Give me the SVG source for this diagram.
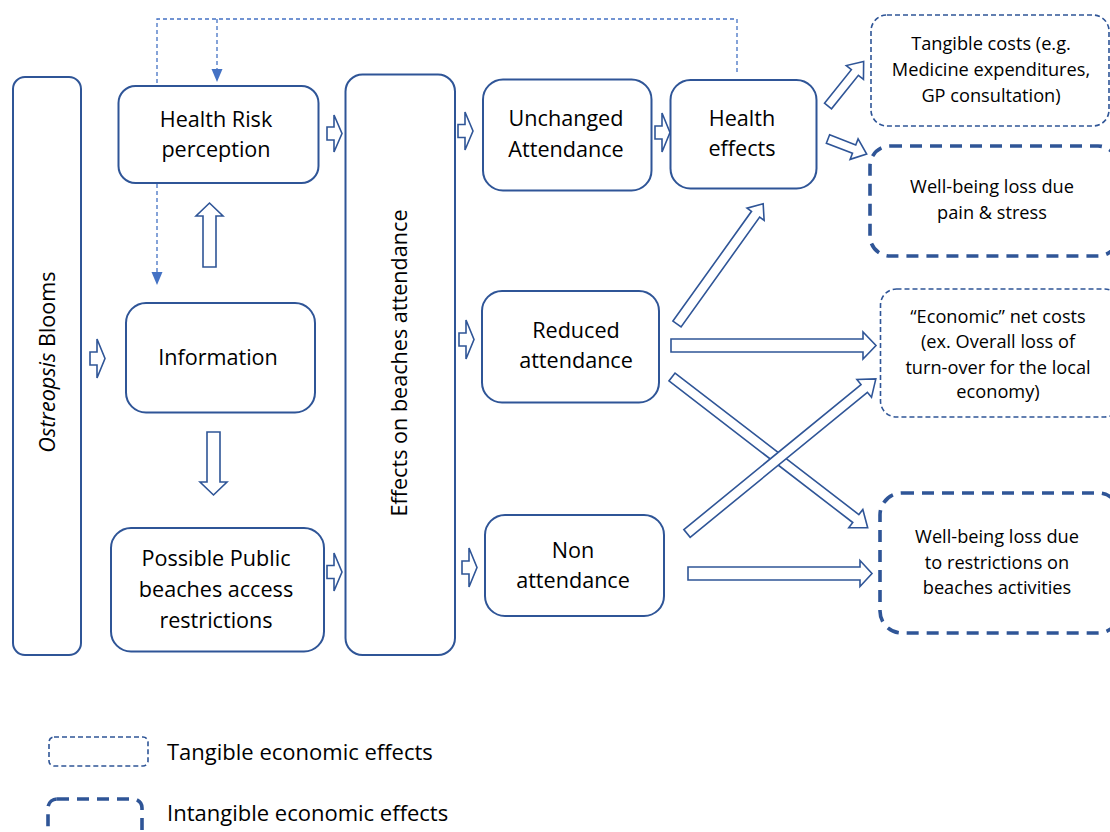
<svg xmlns="http://www.w3.org/2000/svg" width="1110" height="832" viewBox="0 0 1110 832">
<defs>
<style>
.node{fill:#fff;stroke:#2F5597;stroke-width:2}
.tan{fill:#fff;stroke:#2F5597;stroke-width:1.6;stroke-dasharray:5 3}
.intan{fill:#fff;stroke:#2F5597;stroke-width:3.6;stroke-dasharray:12 8}
.t{font-family:"Open Sans","DejaVu Sans",sans-serif;font-size:21.6px;fill:#000;text-anchor:middle}
.s{font-family:"Open Sans","DejaVu Sans",sans-serif;font-size:18.2px;fill:#000;text-anchor:middle}
.lg{font-family:"Open Sans","DejaVu Sans",sans-serif;font-size:22px;fill:#000}
.ba{fill:#fff;stroke:#2F5597;stroke-width:1.6;stroke-linejoin:miter}
.fb{fill:none;stroke:#4472C4;stroke-width:1.3;stroke-dasharray:4 3}
.fh{fill:#4472C4}
</style>
</defs>
<rect width="1110" height="832" fill="#fff"/>

<g id="connectors">
<!-- feedback dashed -->
<polyline class="fb" points="737,72 737,19 157,19 157,274"/>
<line class="fb" x1="217" y1="19" x2="217" y2="70"/>
<polygon class="fh" points="211.5,69 222.5,69 217,82"/>
<polygon class="fh" points="151.5,272 162.5,272 157,285"/>
<!-- small right block arrows -->
<polygon class="ba" points="90,352 97,352 97,339 105,358.5 97,378 97,365 90,365"/>
<polygon class="ba" points="327,127 334,127 334,115 342,133.5 334,152 334,140 327,140"/>
<polygon class="ba" points="327,565.5 334,565.5 334,553 342,572 334,591 334,578.5 327,578.5"/>
<polygon class="ba" points="458,124.5 465,124.5 465,112 473,131 465,150 465,137.5 458,137.5"/>
<polygon class="ba" points="655,126 662,126 662,113 670,132.5 662,152 662,139 655,139"/>
<polygon class="ba" points="459,333 466,333 466,320 474,339.5 466,359 466,346 459,346"/>
<polygon class="ba" points="462,561 469,561 469,548 477,567.5 469,587 469,574 462,574"/>
<!-- vertical block arrows -->
<polygon class="ba" points="203,267 203,216 196,216 209.5,203 223,216 216,216 216,267"/>
<polygon class="ba" points="207,432 220,432 220,482 227,482 213.5,495 200,482 207,482"/>
<!-- long block arrows -->
<polygon class="ba" points="671,339 863,339 863,332 876,345.5 863,359 863,352 671,352"/>
<polygon class="ba" points="688,567 860,567 860,560.5 872,573.5 860,586.5 860,580 688,580"/>
<polygon class="ba" transform="translate(677,324) rotate(-54.4)" points="0,-5 135,-5 135,-10.5 148,0 135,10.5 135,5 0,5"/>
<polygon class="ba" transform="translate(672,377) rotate(37.6)" points="0,-5 232,-5 232,-11.5 247,0 232,11.5 232,5 0,5"/>
<polygon class="ba" transform="translate(687,533.5) rotate(-39.3)" points="0,-5 229,-5 229,-11.5 244,0 229,11.5 229,5 0,5"/>
<polygon class="ba" transform="translate(828,106) rotate(-51.3)" points="0,-4.5 43,-4.5 43,-11 57,0 43,11 43,4.5 0,4.5"/>
<polygon class="ba" transform="translate(828,139) rotate(21.2)" points="0,-4.5 28,-4.5 28,-11 41.5,0 28,11 28,4.5 0,4.5"/>
</g>

<g id="ostreopsis">
<rect class="node" x="13" y="77" width="68" height="578" rx="12"/>
<text class="t" transform="translate(55,362) rotate(-90)"><tspan font-style="italic">Ostreopsis</tspan> Blooms</text>
</g>
<g id="health-risk">
<rect class="node" x="118.5" y="86" width="200" height="97" rx="17"/>
<text class="t" x="216" y="126.5">Health Risk</text>
<text class="t" x="216" y="156.5">perception</text>
</g>
<g id="information">
<rect class="node" x="126" y="303" width="189" height="109.5" rx="20"/>
<text class="t" x="218" y="365">Information</text>
</g>
<g id="restrictions">
<rect class="node" x="111" y="528" width="213" height="123.5" rx="20"/>
<text class="t" x="216" y="566">Possible Public</text>
<text class="t" x="216" y="597">beaches access</text>
<text class="t" x="216" y="627.5">restrictions</text>
</g>
<g id="effects-attendance">
<rect class="node" x="345.5" y="74.5" width="109.5" height="580.5" rx="17"/>
<text class="t" transform="translate(407,363) rotate(-90)">Effects on beaches attendance</text>
</g>
<g id="unchanged">
<rect class="node" x="483" y="79.5" width="168.5" height="111" rx="20"/>
<text class="t" x="566" y="125.5">Unchanged</text>
<text class="t" x="566" y="156.5">Attendance</text>
</g>
<g id="health-effects">
<rect class="node" x="670.5" y="80" width="146" height="108.5" rx="20"/>
<text class="t" x="742" y="126">Health</text>
<text class="t" x="742" y="155.5">effects</text>
</g>
<g id="reduced">
<rect class="node" x="482" y="291" width="177" height="111.5" rx="20"/>
<text class="t" x="576" y="337.5">Reduced</text>
<text class="t" x="576" y="368">attendance</text>
</g>
<g id="non">
<rect class="node" x="485" y="515" width="179" height="101" rx="20"/>
<text class="t" x="573" y="558">Non</text>
<text class="t" x="573" y="588">attendance</text>
</g>
<g id="tangible-costs">
<rect class="tan" x="871" y="15" width="238" height="111" rx="16"/>
<text class="s" x="991" y="50">Tangible costs (e.g.</text>
<text class="s" x="991" y="76">Medicine expenditures,</text>
<text class="s" x="991" y="101.5">GP consultation)</text>
</g>
<g id="wellbeing-pain">
<rect class="intan" x="870" y="146" width="248" height="110" rx="20"/>
<text class="s" x="992" y="193">Well-being loss due</text>
<text class="s" x="992" y="218.5">pain &amp; stress</text>
</g>
<g id="economic-costs">
<rect class="tan" x="880.5" y="289" width="240" height="128" rx="16"/>
<text class="s" x="998" y="322.5">“Economic” net costs</text>
<text class="s" x="998" y="348">(ex. Overall loss of</text>
<text class="s" x="998" y="373.5">turn-over for the local</text>
<text class="s" x="998" y="398">economy)</text>
</g>
<g id="wellbeing-restrictions">
<rect class="intan" x="880" y="493" width="240" height="140" rx="22"/>
<text class="s" x="997" y="543">Well-being loss due</text>
<text class="s" x="997" y="568.5">to restrictions on</text>
<text class="s" x="997" y="594">beaches activities</text>
</g>
<g id="legend">
<rect class="tan" x="49" y="737" width="99" height="29" rx="5"/>
<text class="lg" x="167" y="760">Tangible economic effects</text>
<rect class="intan" x="48" y="799" width="94" height="50" rx="9"/>
<text class="lg" x="167" y="821">Intangible economic effects</text>
</g>
</svg>
